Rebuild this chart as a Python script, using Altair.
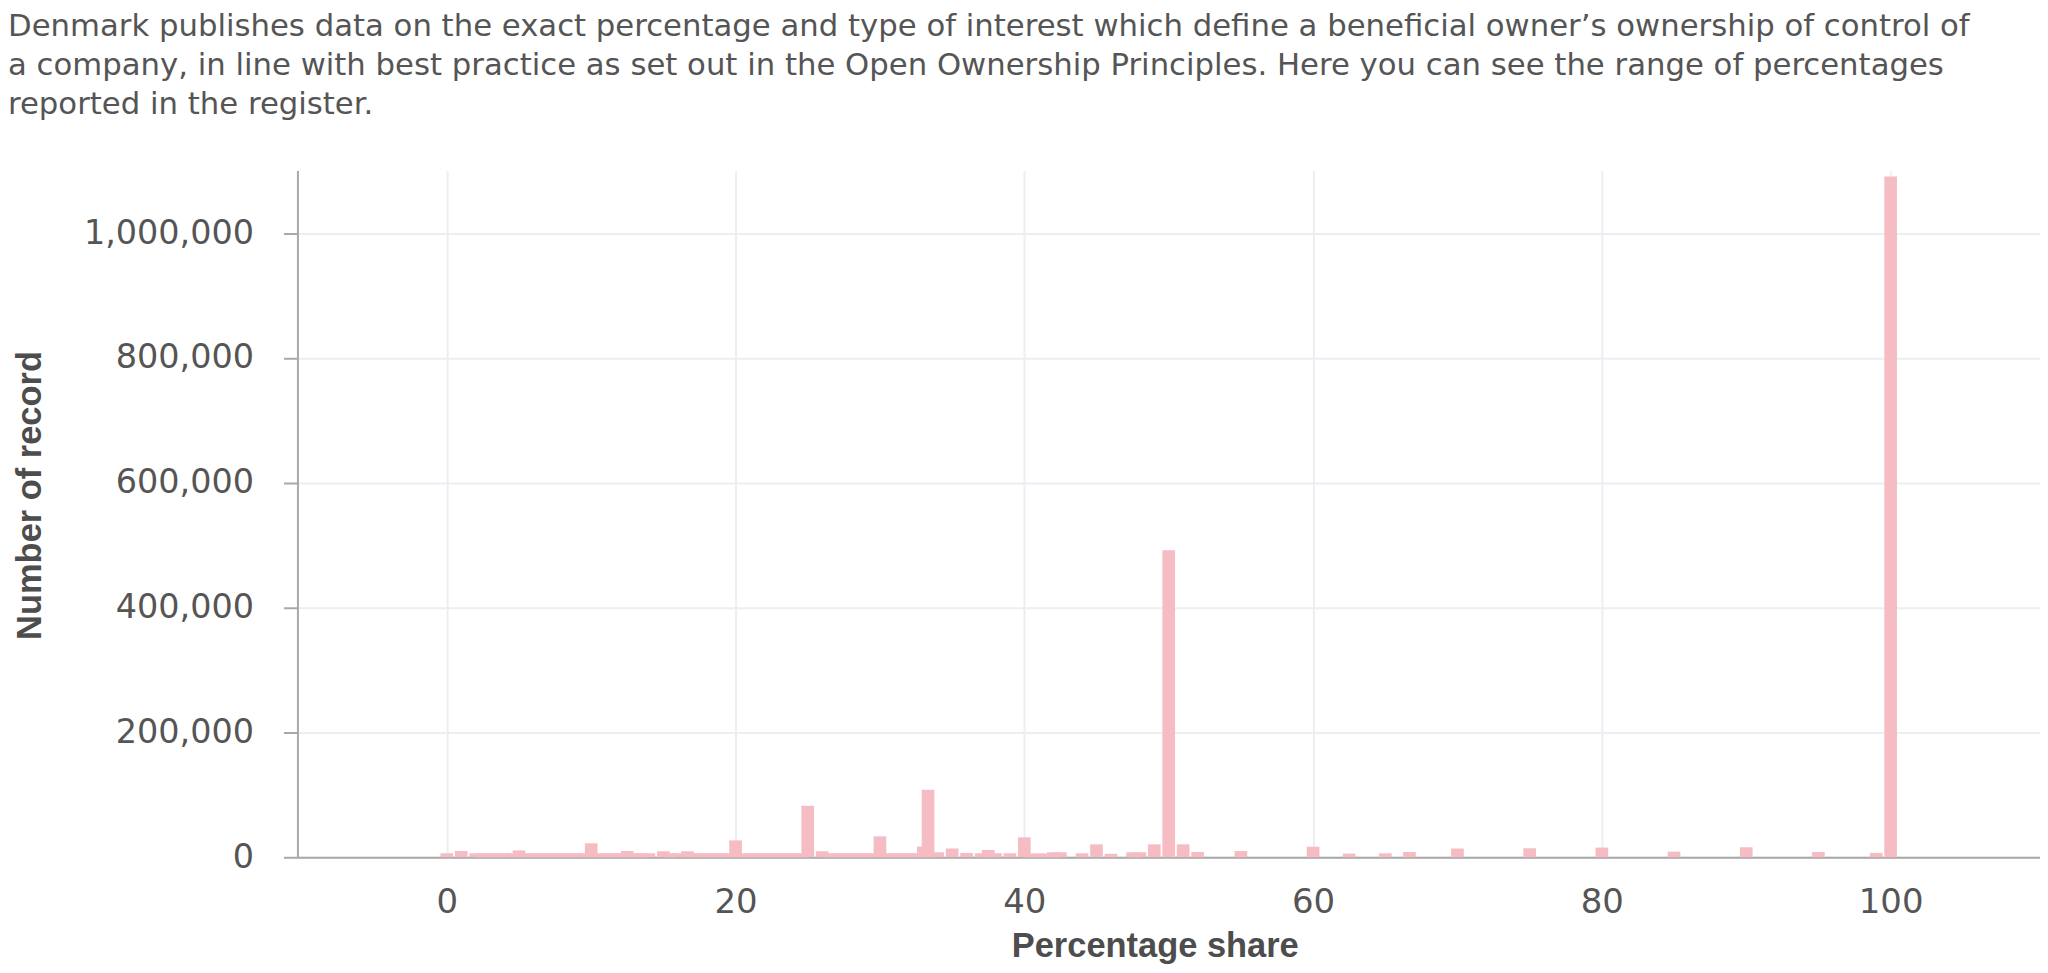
import altair as alt
import pandas as pd

# Percentage share values (x) and number of records (y)
pct = [0, 1, 2, 2.5, 3, 3.5, 4, 4.5, 5, 5.5, 6, 6.5, 7, 7.5, 8, 8.5, 9, 9.5,
       10, 10.5, 11, 11.5, 12, 12.5, 13, 13.5, 14, 15, 15.5, 16, 16.67,
       17, 17.5, 18, 18.5, 19, 19.5, 20, 20.5, 21, 21.5, 22, 22.5, 23, 23.5,
       24, 24.5, 25, 26, 26.5, 27, 27.5, 28, 28.5, 29, 29.5, 30, 30.5, 31,
       31.5, 32, 32.5, 33, 33.33, 34, 35, 36, 37, 37.5, 38, 39, 40, 40.5, 41,
       41.5, 42, 42.5, 44, 45, 46, 47.5, 48, 49, 50, 51, 52, 55, 60, 62.5,
       65, 66.67, 70, 75, 80, 85, 90, 95, 99, 100]
records = [6400, 10000, 6400, 6400, 6400, 6400, 6400, 6400, 11000, 6400, 6400, 6400, 6400, 6400, 6400, 6400, 6400, 6400,
           22400, 6400, 6400, 6400, 6400, 10000, 6400, 6400, 6400, 9600, 6400, 6400, 9600,
           6400, 6400, 6400, 6400, 6400, 6400, 27000, 6400, 6400, 6400, 6400, 6400, 6400, 6400,
           6400, 6400, 82500, 9600, 6400, 6400, 6400, 6400, 6400, 6400, 6400, 33500, 6400, 6400,
           6400, 6400, 6400, 17000, 108000, 8000, 14000, 7000, 6400, 11700, 6400, 6400, 32000, 6000, 6000,
           6000, 8000, 8000, 6400, 20700, 5600, 8000, 8000, 20700, 492000, 20700, 8500, 10000, 17000, 5900,
           6400, 8500, 14000, 14400, 15500, 9000, 16000, 8500, 7000, 1090600]

x_ticks = [0, 20, 40, 60, 80, 100]
y_ticks = [0, 200000, 400000, 600000, 800000, 1000000]

intro = [
    "Denmark publishes data on the exact percentage and type of interest which define a beneficial owner\u2019s ownership of control of",
    "a company, in line with best practice as set out in the Open Ownership Principles. Here you can see the range of percentages",
    "reported in the register.",
]

df = pd.DataFrame({"pct": pct, "records": records})

FONT = "DejaVu Sans"
BOLD = "Liberation Sans"
TXT = "#555555"

chart = alt.Chart(df).mark_bar(width=12.7, color="#f5bcc3").encode(
    x=alt.X(
        "pct:Q",
        scale=alt.Scale(domain=[-10, 110], nice=False, zero=False),
        axis=alt.Axis(
            values=x_ticks, title="Percentage share", grid=True, ticks=False,
            labelPadding=28, labelFontSize=34, labelFont=FONT, labelColor=TXT,
            domainColor="#a8a8a8", domainWidth=2,
            gridColor="#eceef3", gridWidth=2,
            titleFont=BOLD, titleFontSize=34.5, titleFontWeight="bold", titleColor="#4d4d4d",
            titleX=859, titleY=99, titleBaseline="alphabetic", titleAlign="center",
        ),
    ),
    y=alt.Y(
        "records:Q",
        scale=alt.Scale(domain=[0, 1100000], nice=False),
        axis=alt.Axis(
            values=y_ticks, format=",d", title="Number of record",
            tickSize=14, tickWidth=2, tickColor="#a8a8a8",
            labelPadding=30, labelFontSize=33.5, labelFont=FONT, labelColor=TXT,
            domainColor="#a8a8a8", domainWidth=2,
            gridColor="#eceef3", gridWidth=2,
            titleFont=BOLD, titleFontSize=34.5, titleFontWeight="bold", titleColor="#4d4d4d",
            titleAngle=-90, titleX=-257, titleY=325, titleBaseline="alphabetic", titleAlign="center",
        ),
    ),
).properties(
    width=1746,
    height=688,
    autosize=alt.AutoSizeParams(type="none"),
    padding={"left": 290, "top": 162, "right": 0, "bottom": 107},
    title=alt.TitleParams(
        text=intro, anchor="start", frame="group", dx=-290, offset=26,
        font=FONT, fontSize=30.8, fontWeight="normal", color=TXT, lineHeight=39,
        baseline="alphabetic",
    ),
).configure_view(strokeWidth=0)

chart.save("out.html", embed_options={"renderer": "svg", "actions": False})
